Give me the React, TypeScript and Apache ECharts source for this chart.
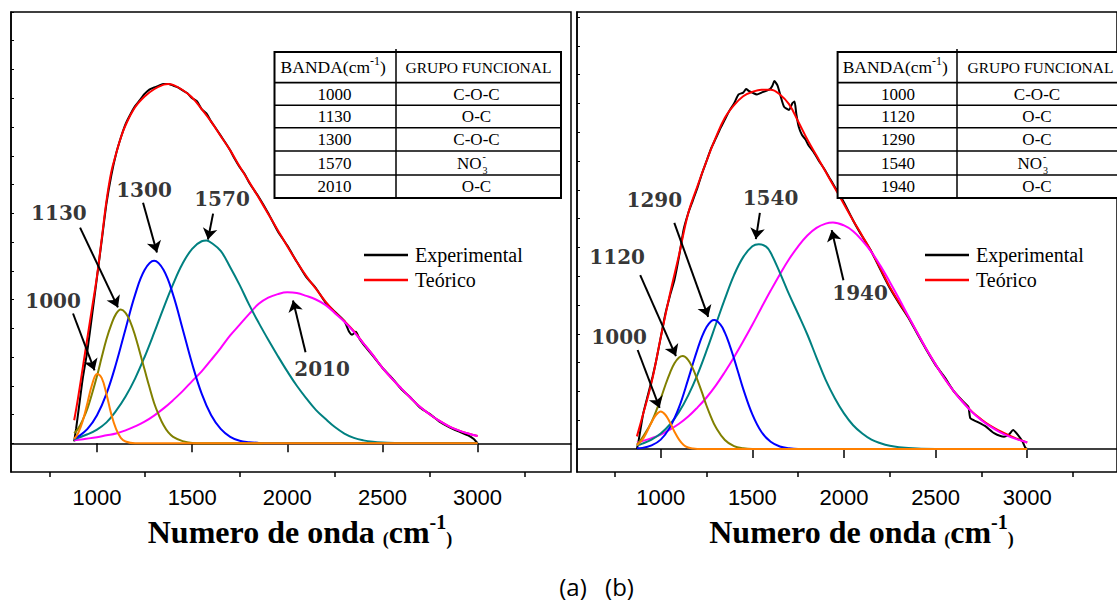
import React, { useEffect, useRef } from "react";
import * as echarts from "echarts";

// ---------- axis tick values ----------
const majorTicks = [1000, 1500, 2000, 2500, 3000];
const minorTicks = [750, 1250, 1750, 2250, 2750, 3250];
const yTicks = [0, 0.08, 0.16, 0.24, 0.32, 0.4, 0.48, 0.56, 0.64, 0.72, 0.8, 0.88, 0.96, 1.04, 1.12, 1.2];

// ---------- panel (a) ----------
const aExperimental: [number, number][] = [
  [880, 0.005], [890, 0.04], [905, 0.1], [925, 0.18], [950, 0.26], [975, 0.36], [1000, 0.462], [1025, 0.565],
  [1050, 0.668], [1075, 0.745], [1100, 0.805], [1125, 0.85], [1150, 0.888], [1175, 0.915], [1200, 0.938],
  [1225, 0.955], [1250, 0.972], [1275, 0.984], [1300, 0.99], [1325, 0.995], [1350, 1.0], [1375, 1.0],
  [1400, 0.995], [1425, 0.99], [1450, 0.982], [1475, 0.974], [1500, 0.96], [1525, 0.952], [1550, 0.93],
  [1575, 0.918], [1600, 0.895], [1625, 0.876], [1650, 0.856], [1675, 0.836], [1700, 0.815], [1725, 0.79],
  [1750, 0.768], [1775, 0.75], [1800, 0.725], [1850, 0.685], [1900, 0.64], [1950, 0.59], [2000, 0.55],
  [2050, 0.505], [2100, 0.462], [2150, 0.432], [2200, 0.392], [2250, 0.366], [2300, 0.34], [2325, 0.31],
  [2340, 0.302], [2360, 0.31], [2380, 0.29], [2400, 0.275], [2450, 0.243], [2500, 0.21], [2550, 0.182],
  [2600, 0.15], [2650, 0.126], [2700, 0.098], [2750, 0.081], [2800, 0.06], [2850, 0.045], [2900, 0.033],
  [2950, 0.022], [2980, 0.012], [3000, 0.0],
];
const aTeorico: [number, number][] = [
  [880, 0.064], [900, 0.125], [925, 0.21], [950, 0.295], [975, 0.38], [1000, 0.465], [1025, 0.57], [1050, 0.675],
  [1075, 0.755], [1100, 0.805], [1125, 0.85], [1150, 0.885], [1200, 0.935], [1250, 0.965], [1300, 0.985],
  [1350, 0.998], [1375, 1.0], [1400, 0.997], [1450, 0.983], [1500, 0.962], [1550, 0.93], [1600, 0.895],
  [1650, 0.855], [1700, 0.815], [1750, 0.77], [1800, 0.727], [1850, 0.683], [1900, 0.638], [1950, 0.593],
  [2000, 0.548], [2050, 0.505], [2100, 0.465], [2150, 0.43], [2200, 0.395], [2250, 0.365], [2300, 0.34],
  [2350, 0.312], [2400, 0.278], [2450, 0.245], [2500, 0.21], [2550, 0.18], [2600, 0.152], [2650, 0.125],
  [2700, 0.1], [2750, 0.08], [2800, 0.062], [2850, 0.047], [2900, 0.036], [2950, 0.027], [3000, 0.02],
];
const aBand2010: [number, number][] = [
  [880, 0.008], [950, 0.013], [1000, 0.017], [1050, 0.022], [1100, 0.027], [1150, 0.036], [1200, 0.047],
  [1250, 0.06], [1300, 0.077], [1350, 0.097], [1400, 0.12], [1450, 0.145], [1500, 0.173], [1550, 0.2],
  [1600, 0.232], [1650, 0.265], [1700, 0.3], [1750, 0.33], [1800, 0.36], [1850, 0.388], [1900, 0.405],
  [1950, 0.415], [2000, 0.42], [2050, 0.418], [2100, 0.41], [2150, 0.4], [2200, 0.385], [2250, 0.362],
  [2300, 0.338], [2350, 0.31], [2400, 0.278], [2450, 0.245], [2500, 0.21], [2550, 0.18], [2600, 0.152],
  [2650, 0.125], [2700, 0.1], [2750, 0.08], [2800, 0.062], [2850, 0.047], [2900, 0.036], [2950, 0.027],
  [3000, 0.02],
];
const aBand1570: [number, number][] = [
  [880, 0.011], [950, 0.025], [1000, 0.038], [1050, 0.058], [1100, 0.09], [1150, 0.13], [1200, 0.18],
  [1250, 0.24], [1300, 0.307], [1350, 0.377], [1400, 0.443], [1450, 0.5], [1500, 0.541], [1550, 0.562],
  [1575, 0.564], [1600, 0.558], [1650, 0.535], [1700, 0.49], [1750, 0.44], [1800, 0.385], [1850, 0.335],
  [1900, 0.288], [1950, 0.243], [2000, 0.2], [2050, 0.16], [2100, 0.125], [2150, 0.093], [2200, 0.068],
  [2250, 0.045], [2300, 0.027], [2350, 0.015], [2400, 0.008], [2450, 0.004], [2500, 0.002], [2600, 0],
  [2800, 0], [3000, 0],
];
const aBand1300: [number, number][] = [
  [880, 0.013], [900, 0.018], [950, 0.04], [1000, 0.078], [1050, 0.138], [1100, 0.221], [1150, 0.318],
  [1200, 0.413], [1250, 0.482], [1300, 0.508], [1350, 0.482], [1400, 0.413], [1450, 0.318], [1500, 0.221],
  [1550, 0.138], [1600, 0.078], [1650, 0.04], [1700, 0.018], [1750, 0.007], [1800, 0.003], [1850, 0.001],
  [1900, 0], [2100, 0], [3000, 0],
];
const aBand1130: [number, number][] = [
  [880, 0.028], [900, 0.04], [925, 0.065], [950, 0.097], [975, 0.14], [1000, 0.187], [1025, 0.24],
  [1050, 0.29], [1075, 0.33], [1100, 0.36], [1125, 0.372], [1150, 0.363], [1175, 0.338], [1200, 0.3],
  [1225, 0.253], [1250, 0.205], [1275, 0.157], [1300, 0.112], [1325, 0.078], [1350, 0.05], [1375, 0.03],
  [1400, 0.018], [1450, 0.006], [1500, 0.001], [1550, 0], [1700, 0], [3000, 0],
];
const aBand1000: [number, number][] = [
  [880, 0.012], [900, 0.027], [925, 0.062], [950, 0.113], [975, 0.165], [1000, 0.193], [1025, 0.181],
  [1050, 0.136], [1075, 0.081], [1100, 0.04], [1125, 0.015], [1150, 0.005], [1200, 0], [1300, 0], [3000, 0],
];
const aLabels = ["1000", "1130", "1300", "1570", "2010"];
const aLabelPos: [number, number][] = [[769, 0.397], [800, 0.642], [1247, 0.706], [1657, 0.681], [2183, 0.208]];
const aArrows: [number, number, number, number][] = [
  [874, 0.361, 987, 0.203], [911, 0.6, 1110, 0.378], [1242, 0.669, 1315, 0.531],
  [1610, 0.639, 1583, 0.567], [2096, 0.253, 2030, 0.397],
];
const aBands = ["1000", "1130", "1300", "1570", "2010"];
const aGroups = ["C-O-C", "O-C", "C-O-C", "NO3-", "O-C"];

// ---------- panel (b) ----------
const bExperimental: [number, number][] = [
  [870, 0.0], [880, 0.025], [905, 0.1], [930, 0.15], [955, 0.2], [975, 0.245], [1000, 0.31], [1025, 0.375],
  [1050, 0.425], [1075, 0.47], [1100, 0.535], [1125, 0.61], [1150, 0.655], [1175, 0.69], [1200, 0.725],
  [1225, 0.765], [1250, 0.8], [1275, 0.835], [1300, 0.862], [1325, 0.89], [1350, 0.915], [1375, 0.94],
  [1400, 0.96], [1425, 0.985], [1450, 0.99], [1466, 1.0], [1480, 0.995], [1500, 0.99], [1525, 0.985],
  [1550, 0.99], [1575, 0.995], [1597, 1.0], [1610, 1.01], [1620, 1.022], [1637, 1.01], [1655, 0.979],
  [1673, 0.951], [1700, 0.942], [1718, 0.96], [1730, 0.965], [1740, 0.93], [1753, 0.895], [1771, 0.872],
  [1790, 0.86], [1806, 0.844], [1833, 0.826], [1860, 0.803], [1896, 0.775], [1922, 0.752], [1950, 0.728],
  [2000, 0.685], [2050, 0.635], [2100, 0.59], [2150, 0.548], [2200, 0.497], [2250, 0.447], [2300, 0.405],
  [2350, 0.366], [2400, 0.32], [2450, 0.275], [2500, 0.233], [2549, 0.2], [2600, 0.16], [2650, 0.132],
  [2679, 0.117], [2690, 0.085], [2725, 0.076], [2775, 0.062], [2819, 0.044], [2874, 0.034], [2900, 0.04],
  [2923, 0.053], [2949, 0.039], [2975, 0.02], [2990, 0.003], [3000, 0.0],
];
const bTeorico: [number, number][] = [
  [870, 0.035], [900, 0.09], [950, 0.185], [1000, 0.31], [1050, 0.43], [1100, 0.54], [1150, 0.655],
  [1200, 0.73], [1250, 0.8], [1300, 0.865], [1350, 0.92], [1400, 0.955], [1450, 0.98], [1500, 0.992],
  [1550, 0.998], [1600, 0.998], [1650, 0.985], [1700, 0.958], [1750, 0.91], [1800, 0.86], [1850, 0.815],
  [1900, 0.77], [1950, 0.725], [2000, 0.68], [2050, 0.635], [2100, 0.592], [2150, 0.548], [2200, 0.5],
  [2250, 0.45], [2300, 0.408], [2350, 0.368], [2400, 0.323], [2450, 0.277], [2500, 0.235], [2550, 0.195],
  [2600, 0.16], [2650, 0.13], [2700, 0.103], [2750, 0.082], [2800, 0.064], [2850, 0.05], [2900, 0.038],
  [2950, 0.027], [3000, 0.018],
];
const bBand1940: [number, number][] = [
  [870, 0.018], [900, 0.022], [950, 0.03], [1000, 0.04], [1050, 0.054], [1100, 0.07], [1150, 0.09],
  [1200, 0.115], [1250, 0.143], [1300, 0.176], [1350, 0.214], [1400, 0.255], [1450, 0.299], [1500, 0.345],
  [1550, 0.393], [1600, 0.44], [1650, 0.485], [1700, 0.527], [1750, 0.563], [1800, 0.593], [1850, 0.614],
  [1900, 0.626], [1940, 0.629], [2000, 0.621], [2050, 0.605], [2100, 0.579], [2150, 0.547], [2200, 0.508],
  [2250, 0.464], [2300, 0.418], [2350, 0.37], [2400, 0.323], [2450, 0.277], [2500, 0.235], [2550, 0.195],
  [2600, 0.16], [2650, 0.129], [2700, 0.102], [2750, 0.08], [2800, 0.062], [2850, 0.047], [2900, 0.035],
  [2950, 0.026], [3000, 0.018],
];
const bBand1540: [number, number][] = [
  [870, 0.01], [900, 0.015], [950, 0.026], [1000, 0.043], [1050, 0.068], [1100, 0.103], [1150, 0.149],
  [1200, 0.206], [1250, 0.273], [1300, 0.345], [1350, 0.417], [1400, 0.483], [1450, 0.533], [1500, 0.563],
  [1535, 0.569], [1575, 0.562], [1600, 0.545], [1650, 0.49], [1700, 0.43], [1750, 0.375], [1800, 0.318],
  [1850, 0.254], [1900, 0.192], [1950, 0.141], [2000, 0.099], [2050, 0.066], [2100, 0.043], [2150, 0.026],
  [2200, 0.016], [2250, 0.009], [2300, 0.005], [2400, 0.001], [2500, 0], [2700, 0], [3000, 0],
];
const bBand1290: [number, number][] = [
  [870, 0.002], [900, 0.003], [950, 0.01], [1000, 0.026], [1050, 0.06], [1100, 0.116], [1150, 0.194],
  [1175, 0.236], [1200, 0.276], [1225, 0.312], [1250, 0.339], [1275, 0.355], [1292, 0.358], [1325, 0.346],
  [1350, 0.323], [1375, 0.29], [1400, 0.251], [1425, 0.209], [1450, 0.167], [1500, 0.096], [1550, 0.047],
  [1600, 0.02], [1650, 0.007], [1700, 0.002], [1750, 0], [1900, 0], [3000, 0],
];
const bBand1120: [number, number][] = [
  [870, 0.012], [900, 0.032], [950, 0.075], [1000, 0.14], [1025, 0.177], [1050, 0.211], [1075, 0.238],
  [1100, 0.254], [1120, 0.258], [1150, 0.247], [1175, 0.224], [1200, 0.192], [1225, 0.157], [1250, 0.12],
  [1275, 0.088], [1300, 0.061], [1350, 0.025], [1400, 0.008], [1450, 0.002], [1500, 0], [1650, 0], [3000, 0],
];
const bBand1000: [number, number][] = [
  [870, 0.01], [900, 0.026], [925, 0.048], [950, 0.074], [975, 0.095], [1000, 0.104], [1025, 0.095],
  [1050, 0.074], [1075, 0.048], [1100, 0.026], [1125, 0.011], [1150, 0.004], [1175, 0.001], [1200, 0],
  [1300, 0], [3000, 0],
];
const bLabels = ["1000", "1120", "1290", "1540", "1940"];
const bLabelPos: [number, number][] = [[773, 0.311], [762, 0.533], [965, 0.692], [1599, 0.697], [2088, 0.433]];
const bArrows: [number, number, number, number][] = [
  [874, 0.275, 994, 0.114], [888, 0.483, 1083, 0.258], [1074, 0.628, 1259, 0.367],
  [1541, 0.656, 1519, 0.583], [1997, 0.469, 1933, 0.608],
];
const bBands = ["1000", "1120", "1290", "1540", "1940"];
const bGroups = ["C-O-C", "O-C", "O-C", "NO3-", "O-C"];

const componentColors = ["#ff00ff", "#008080", "#0000ff", "#808000", "#ff8000"];

// ---------- helpers ----------
const serif = "Liberation Serif";

function lineSeries(name: string, data: [number, number][], color: string, xi: number, yi: number, smooth: number, width = 2) {
  return {
    type: "line",
    name,
    data,
    xAxisIndex: xi,
    yAxisIndex: yi,
    showSymbol: false,
    symbol: "none",
    smooth,
    lineStyle: { color, width },
    itemStyle: { color },
    silent: true,
  };
}

function labelSeries(labels: string[], pos: [number, number][], xi: number, yi: number) {
  return {
    type: "scatter",
    name: "labels" + xi,
    xAxisIndex: xi,
    yAxisIndex: yi,
    symbolSize: 1,
    itemStyle: { color: "rgba(0,0,0,0)" },
    silent: true,
    z: 5,
    data: pos.map((p, i) => ({ value: p, name: labels[i] })),
    label: {
      show: true,
      position: "inside",
      formatter: "{b}",
      fontFamily: "DejaVu Serif",
      fontWeight: "bold",
      fontSize: 20,
      color: "#000",
    },
  };
}

function arrowSeries(arrows: [number, number, number, number][], xi: number, yi: number) {
  return {
    type: "line",
    name: "arrows" + xi,
    xAxisIndex: xi,
    yAxisIndex: yi,
    data: [],
    silent: true,
    z: 5,
    itemStyle: { color: "#000" },
    lineStyle: { color: "#000" },
    markLine: {
      silent: true,
      symbol: ["none", "arrow"],
      symbolSize: 11,
      label: { show: false },
      itemStyle: { color: "#000" },
      lineStyle: { color: "#000", width: 2, type: "solid" },
      emphasis: { disabled: true },
      data: arrows.map((a) => [{ coord: [a[0], a[1]] }, { coord: [a[2], a[3]] }]),
    },
  };
}

const rowLines = [82.7, 105.3, 127.7, 151, 175];
const rowCenters = [94, 116.5, 139.3, 163, 186.5];

function tableGraphics(x0: number, xm: number, x1: number, cxBand: number, cxGroup: number, bands: string[], groups: string[]) {
  const els: any[] = [];
  const top = 52;
  const bottom = 198;
  els.push({ type: "rect", z: 100, shape: { x: x0, y: top, width: x1 - x0, height: bottom - top }, style: { fill: "#fff", stroke: "#000", lineWidth: 2 } });
  rowLines.forEach((y) => {
    els.push({ type: "line", z: 101, shape: { x1: x0, y1: y, x2: x1, y2: y }, style: { stroke: "#000", lineWidth: y === rowLines[0] ? 1.8 : 1.4 } });
  });
  els.push({ type: "line", z: 101, shape: { x1: xm, y1: 49, x2: xm, y2: bottom }, style: { stroke: "#000", lineWidth: 1.5 } });
  els.push({
    type: "text", z: 102,
    style: {
      text: "{a|BANDA(cm}{s|-1}{a|)}",
      x: (x0 + xm) / 2 - 2, y: 67, textAlign: "center", textVerticalAlign: "middle",
      rich: {
        a: { fontFamily: serif, fontSize: 17.5, lineHeight: 24, fill: "#000" },
        s: { fontFamily: serif, fontSize: 12, lineHeight: 12, verticalAlign: "top", fill: "#000" },
      },
    },
  });
  els.push({
    type: "text", z: 102,
    style: { text: "GRUPO FUNCIONAL", x: (xm + x1) / 2, y: 67, textAlign: "center", textVerticalAlign: "middle", fontFamily: serif, fontSize: 15.5, fill: "#000" },
  });
  bands.forEach((b, i) => {
    els.push({
      type: "text", z: 102,
      style: { text: b, x: cxBand, y: rowCenters[i], textAlign: "center", textVerticalAlign: "middle", fontFamily: serif, fontSize: 17, fill: "#000" },
    });
    const g = groups[i];
    if (g === "NO3-") {
      els.push({ type: "text", z: 102, style: { text: "NO", x: cxGroup + 5, y: rowCenters[i], textAlign: "right", textVerticalAlign: "middle", fontFamily: serif, fontSize: 17, fill: "#000" } });
      els.push({ type: "text", z: 102, style: { text: "-", x: cxGroup + 6, y: rowCenters[i] - 7, textAlign: "left", textVerticalAlign: "middle", fontFamily: serif, fontSize: 10, fill: "#000" } });
      els.push({ type: "text", z: 102, style: { text: "3", x: cxGroup + 6, y: rowCenters[i] + 7, textAlign: "left", textVerticalAlign: "middle", fontFamily: serif, fontSize: 10, fill: "#000" } });
    } else {
      els.push({
        type: "text", z: 102,
        style: { text: g, x: cxGroup, y: rowCenters[i], textAlign: "center", textVerticalAlign: "middle", fontFamily: serif, fontSize: 17, fill: "#000" },
      });
    }
  });
  return els;
}

function titleGraphic(cx: number) {
  return {
    type: "text",
    z: 100,
    style: {
      text: "{t|Numero de onda }{p|(}{t|cm}{s|-1}{p|)}",
      x: cx, y: 530, textAlign: "center", textVerticalAlign: "middle",
      rich: {
        t: { fontFamily: serif, fontWeight: "bold", fontSize: 32, lineHeight: 36, verticalAlign: "bottom", fill: "#000" },
        p: { fontFamily: serif, fontWeight: "bold", fontSize: 18, lineHeight: 29, verticalAlign: "bottom", fill: "#000" },
        s: { fontFamily: serif, fontWeight: "bold", fontSize: 20, lineHeight: 20, verticalAlign: "top", fill: "#000" },
      },
    },
  };
}

function xAxes(grid: number, min: number, max: number) {
  return [
    {
      type: "value", gridIndex: grid, min, max, position: "bottom",
      axisLine: { show: true, lineStyle: { color: "#000", width: 1.5 } },
      axisTick: { show: true, customValues: majorTicks, length: 9, inside: false, lineStyle: { color: "#000", width: 1.5 } },
      axisLabel: {
        show: true, customValues: majorTicks, fontFamily: "Liberation Sans", fontSize: 22, color: "#000", margin: 14,
        formatter: (v: number) => String(v),
      },
      splitLine: { show: false },
    },
    {
      type: "value", gridIndex: grid, min, max, position: "bottom",
      axisLine: { show: false },
      axisTick: { show: true, customValues: minorTicks, length: 5, inside: false, lineStyle: { color: "#000", width: 1.5 } },
      axisLabel: { show: false },
      splitLine: { show: false },
    },
  ];
}

function yAxis(grid: number, min: number, max: number) {
  return {
    type: "value", gridIndex: grid, min, max,
    axisLine: { show: true, lineStyle: { color: "#000", width: 1.5 } },
    axisTick: { show: true, customValues: yTicks, inside: true, length: 3, lineStyle: { color: "#000", width: 1 } },
    axisLabel: { show: false },
    splitLine: { show: false },
  };
}

function legendAt(left: number) {
  return {
    left, top: 245, orient: "vertical", padding: 0,
    data: ["Experimental", "Teórico"],
    icon: "rect", itemWidth: 44, itemHeight: 2.5, itemGap: 5,
    selectedMode: false,
    textStyle: { fontFamily: serif, fontSize: 20, color: "#000", lineHeight: 20, padding: [0, 0, 0, 2] },
  };
}

export default function App() {
  const ref = useRef<HTMLDivElement>(null);
  useEffect(() => {
    document.body.style.margin = "0";
    document.body.style.overflow = "hidden";
    const chart = echarts.init(ref.current!, null, { renderer: "svg" });
    const aComps = [aBand2010, aBand1570, aBand1300, aBand1130, aBand1000];
    const bComps = [bBand1940, bBand1540, bBand1290, bBand1120, bBand1000];
    const option: any = {
      animation: false,
      backgroundColor: "#fff",
      grid: [
        { left: 11, top: 12, width: 560, height: 460, show: true, borderColor: "#000", borderWidth: 1.5, backgroundColor: "transparent" },
        { left: 577, top: 12, width: 551, height: 460, show: true, borderColor: "#000", borderWidth: 1.5, backgroundColor: "transparent" },
      ],
      xAxis: [...xAxes(0, 548, 3491), ...xAxes(1, 543, 3490)],
      yAxis: [yAxis(0, -0.08, 1.2), yAxis(1, -0.064, 1.214)],
      legend: [legendAt(364), legendAt(925)],
      series: [
        lineSeries("Experimental", aExperimental, "#000", 0, 0, 0.2),
        lineSeries("Teórico", aTeorico, "#ff0000", 0, 0, 0.4),
        ...aComps.map((d, i) => lineSeries("a" + aLabels[4 - i], d, componentColors[i], 0, 0, 0.4)),
        labelSeries(aLabels, aLabelPos, 0, 0),
        arrowSeries(aArrows, 0, 0),
        lineSeries("Experimental", bExperimental, "#000", 2, 1, 0.2),
        lineSeries("Teórico", bTeorico, "#ff0000", 2, 1, 0.4),
        ...bComps.map((d, i) => lineSeries("b" + bLabels[4 - i], d, componentColors[i], 2, 1, 0.4)),
        labelSeries(bLabels, bLabelPos, 2, 1),
        arrowSeries(bArrows, 2, 1),
      ],
      graphic: [
        ...tableGraphics(274.5, 396, 561, 334.5, 476.5, aBands, aGroups),
        ...tableGraphics(837.6, 957, 1124, 898, 1037, bBands, bGroups),
        titleGraphic(300),
        titleGraphic(861.5),
        { type: "text", z: 100, style: { text: "(a)", x: 573, y: 586, textAlign: "center", textVerticalAlign: "middle", fontFamily: "Open Sans", fontSize: 24, fill: "#000" } },
        { type: "text", z: 100, style: { text: "(b)", x: 619.5, y: 586, textAlign: "center", textVerticalAlign: "middle", fontFamily: "Open Sans", fontSize: 24, fill: "#000" } },
      ],
    };
    chart.setOption(option);
    return () => chart.dispose();
  }, []);
  return <div ref={ref} style={{ position: "fixed", left: 0, top: 0, width: 1117, height: 601, background: "#fff" }} />;
}
